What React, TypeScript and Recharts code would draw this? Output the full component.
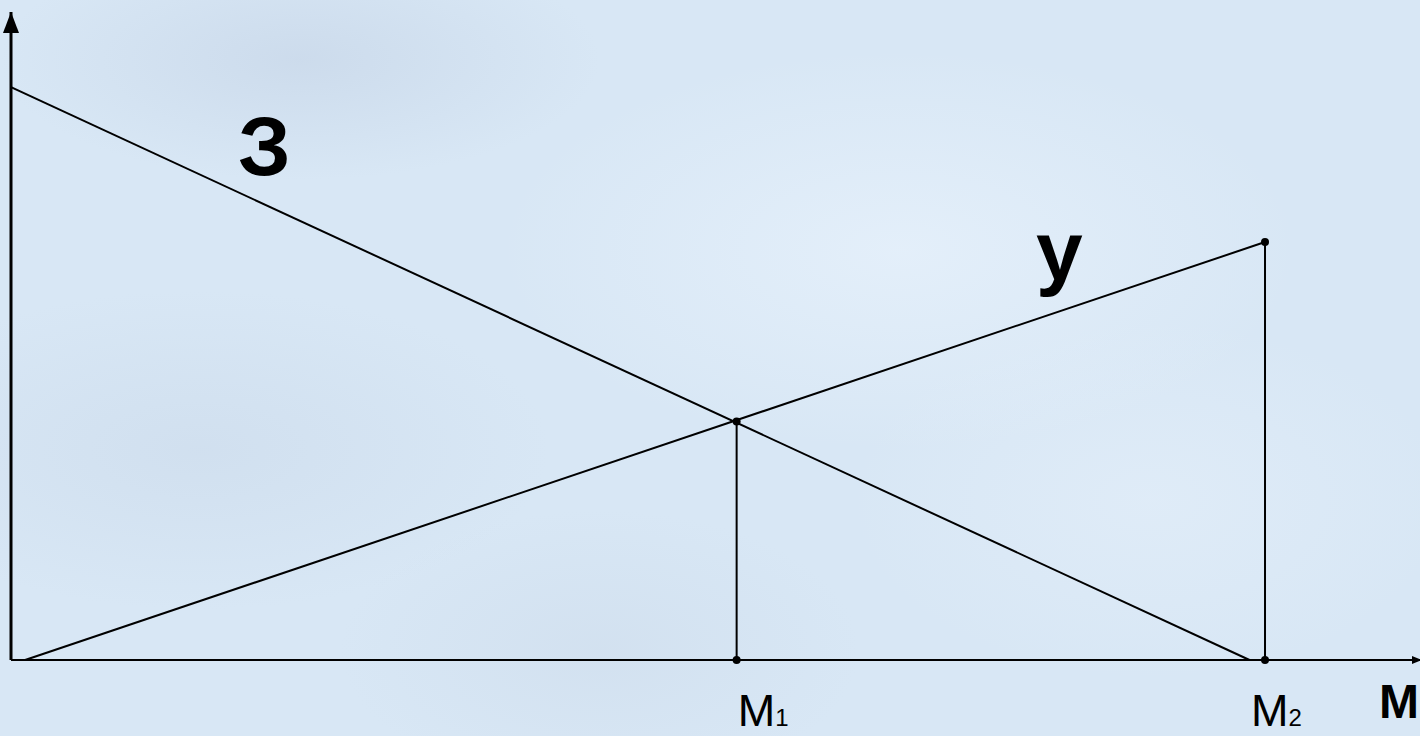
import React from 'react';
import { ComposedChart, Line, XAxis, YAxis, ReferenceLine, ReferenceDot } from 'recharts';

// axis scale: 0..100 on both axes
const xDomain = [0, 100];
const yDomain = [0, 100];

// cost line "З" falls, damage line "у" rises
const costLine = [
  { x: 0, y: 88.4 },
  { x: 87.9, y: 0 },
];
const damageLine = [
  { x: 1.0, y: 0 },
  { x: 89.0, y: 64.5 },
];

// marked points on the x axis
const markX = [51.5, 89.0];
const markY = [36.8, 64.5];
const markLabels = ['1', '2'];

const FONT = '"Liberation Sans", Arial, sans-serif';

const MTick = (props: any) => {
  const { x, y, index } = props;
  const dx = index === 0 ? 1 : -14;
  return (
    <text x={x + dx} y={y + 66} fontFamily={FONT} fontSize={45} fill="#000">
      M<tspan fontSize={24}>{markLabels[index]}</tspan>
    </text>
  );
};

const UpArrow = ({ cx, cy }: any) => (
  <path d={`M${cx},${cy} L${cx - 8},${cy + 21} L${cx + 8},${cy + 21} Z`} fill="#000" />
);

const RightArrow = ({ cx, cy }: any) => (
  <path d={`M${cx + 2},${cy} L${cx - 8},${cy - 4} L${cx - 8},${cy + 4} Z`} fill="#000" />
);

const BigLabel = (text: string, dx: number, dy: number, size: number) => ({ cx, cy }: any) => (
  <text x={cx + dx} y={cy + dy} fontFamily={FONT} fontWeight="bold" fontSize={size} fill="#000">
    {text}
  </text>
);

const App: React.FC = () => {
  return (
    <div
      style={{
        position: 'fixed',
        left: 0,
        top: 0,
        width: 1420,
        height: 736,
        overflow: 'hidden',
        background:
          'radial-gradient(ellipse 300px 120px at 300px 60px, rgba(190,205,225,0.45), transparent), ' +
          'radial-gradient(ellipse 400px 200px at 900px 250px, rgba(235,244,253,0.6), transparent), ' +
          'radial-gradient(ellipse 350px 160px at 200px 450px, rgba(195,210,228,0.35), transparent), ' +
          'radial-gradient(ellipse 300px 180px at 1150px 500px, rgba(230,240,250,0.5), transparent), ' +
          'radial-gradient(ellipse 260px 140px at 600px 650px, rgba(200,214,230,0.35), transparent), ' +
          '#d8e7f5',
      }}
    >
      <ComposedChart width={1420} height={736} margin={{ top: 12, right: 0, bottom: 0, left: 11 }}>
        <XAxis
          dataKey="x"
          type="number"
          domain={xDomain}
          ticks={markX}
          tick={<MTick />}
          tickLine={false}
          tickSize={0}
          tickMargin={0}
          height={76}
          axisLine={{ stroke: '#000', strokeWidth: 2 }}
          interval={0}
        />
        <YAxis type="number" domain={yDomain} width={0} tick={false} tickLine={false} axisLine={false} />
        <ReferenceLine segment={[{ x: 0, y: 0 }, { x: 0, y: 100 }]} stroke="#000" strokeWidth={3} />
        <Line data={costLine} dataKey="y" type="linear" stroke="#000" strokeWidth={2} dot={false} isAnimationActive={false} />
        <Line data={damageLine} dataKey="y" type="linear" stroke="#000" strokeWidth={2} dot={false} isAnimationActive={false} />
        {markX.map((mx, i) => (
          <ReferenceLine
            key={`v${i}`}
            segment={[{ x: mx, y: 0 }, { x: mx, y: markY[i] }]}
            stroke="#000"
            strokeWidth={2}
          />
        ))}
        {markX.map((mx, i) => (
          <ReferenceDot key={`t${i}`} x={mx} y={markY[i]} r={4} fill="#000" stroke="none" />
        ))}
        {markX.map((mx, i) => (
          <ReferenceDot key={`b${i}`} x={mx} y={0} r={4} fill="#000" stroke="none" />
        ))}
        <ReferenceDot x={0} y={100} shape={<UpArrow />} />
        <ReferenceDot x={100} y={0} shape={<RightArrow />} />
        <ReferenceDot x={costLine[0].x} y={costLine[0].y} shape={BigLabel('З', 227, 88, 84)} />
        <ReferenceDot x={damageLine[1].x} y={damageLine[1].y} shape={BigLabel('у', -229, 38, 84)} />
        <ReferenceDot x={100} y={0} shape={BigLabel('M', -41, 58, 48)} />
      </ComposedChart>
    </div>
  );
};

export default App;
